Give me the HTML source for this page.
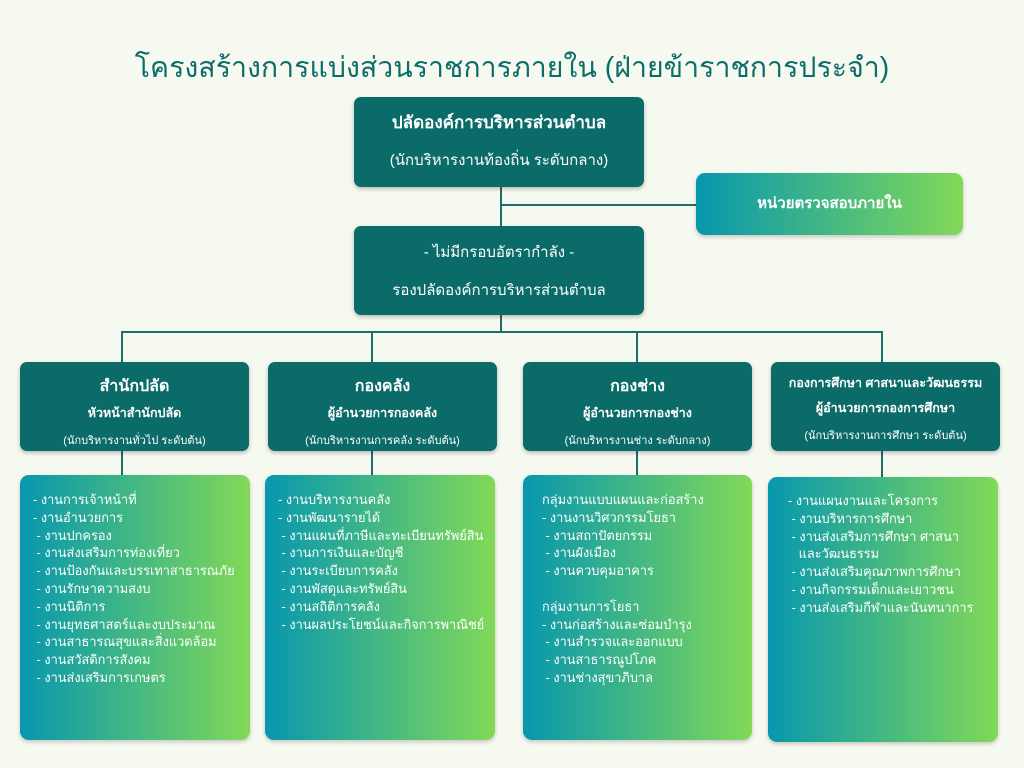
<!DOCTYPE html>
<html><head><meta charset="utf-8"><style>
body{margin:0;width:1024px;height:768px;background:#f6f9f0;position:relative;overflow:hidden;font-family:"Liberation Sans","Noto Sans CJK SC",sans-serif;}
.a{position:absolute;box-sizing:border-box}
.d{background:#0b6b68;color:#fff;border-radius:7px;text-align:center;box-shadow:0 2px 4px rgba(0,0,0,.25)}
.g{background:linear-gradient(90deg,#0797ae,#82d958);color:#fff;border-radius:9px;box-shadow:0 2px 4px rgba(0,0,0,.2)}
.l{position:absolute;background:#1e6e6a}
.lst{font-size:12.8px;line-height:17.8px;white-space:pre}
</style></head><body>
<div class="a" style="left:0;top:44px;width:1024px;text-align:center;font-size:28.5px;color:#0d6e69">โครงสร้างการแบ่งส่วนราชการภายใน (ฝ่ายข้าราชการประจำ)</div>

<div class="l" style="left:500px;top:187px;width:2px;height:40px"></div>
<div class="l" style="left:500px;top:204px;width:196px;height:2px"></div>
<div class="l" style="left:500px;top:315px;width:2px;height:18px"></div>
<div class="l" style="left:121px;top:331px;width:762px;height:2px"></div>
<div class="l" style="left:121px;top:331px;width:2px;height:31px"></div>
<div class="l" style="left:371px;top:331px;width:2px;height:31px"></div>
<div class="l" style="left:636px;top:331px;width:2px;height:31px"></div>
<div class="l" style="left:881px;top:331px;width:2px;height:31px"></div>
<div class="l" style="left:121px;top:451px;width:2px;height:24px"></div>
<div class="l" style="left:371px;top:451px;width:2px;height:24px"></div>
<div class="l" style="left:636px;top:451px;width:2px;height:24px"></div>
<div class="l" style="left:881px;top:451px;width:2px;height:26px"></div>

<div class="a d" style="left:354px;top:97px;width:290px;height:90px;padding-top:12px">
<div style="font-size:17px;font-weight:bold">ปลัดองค์การบริหารส่วนตำบล</div>
<div style="font-size:15px;margin-top:12px">(นักบริหารงานท้องถิ่น ระดับกลาง)</div></div>

<div class="a g" style="left:696px;top:173px;width:267px;height:62px;text-align:center;line-height:62px;font-size:15px;font-weight:bold">หน่วยตรวจสอบภายใน</div>

<div class="a d" style="left:354px;top:226px;width:290px;height:89px;padding-top:14px;font-size:15px">
<div>- ไม่มีกรอบอัตรากำลัง -</div><div style="margin-top:14px">รองปลัดองค์การบริหารส่วนตำบล</div></div>

<div class="a d" style="left:20px;top:362px;width:229px;height:89px;padding-top:12px">
<div style="font-size:16px;font-weight:bold">สำนักปลัด</div><div style="font-size:12.5px;font-weight:bold;margin-top:4px">หัวหน้าสำนักปลัด</div><div style="font-size:11px;margin-top:8px">(นักบริหารงานทั่วไป ระดับต้น)</div></div>
<div class="a d" style="left:268px;top:362px;width:229px;height:89px;padding-top:12px">
<div style="font-size:16px;font-weight:bold">กองคลัง</div><div style="font-size:12.5px;font-weight:bold;margin-top:4px">ผู้อำนวยการกองคลัง</div><div style="font-size:11px;margin-top:8px">(นักบริหารงานการคลัง ระดับต้น)</div></div>
<div class="a d" style="left:523px;top:362px;width:229px;height:89px;padding-top:12px">
<div style="font-size:16px;font-weight:bold">กองช่าง</div><div style="font-size:12.5px;font-weight:bold;margin-top:4px">ผู้อำนวยการกองช่าง</div><div style="font-size:11px;margin-top:8px">(นักบริหารงานช่าง  ระดับกลาง)</div></div>
<div class="a d" style="left:771px;top:362px;width:229px;height:89px;padding-top:11px">
<div style="font-size:12.5px;font-weight:bold">กองการศึกษา ศาสนาและวัฒนธรรม</div><div style="font-size:12.5px;font-weight:bold;margin-top:5px">ผู้อำนวยการกองการศึกษา</div><div style="font-size:11px;margin-top:8px">(นักบริหารงานการศึกษา ระดับต้น)</div></div>

<div class="a g lst" style="left:20px;top:475px;width:230px;height:265px;padding:16px 0 0 13px">- งานการเจ้าหน้าที่
- งานอำนวยการ
 - งานปกครอง
 - งานส่งเสริมการท่องเที่ยว
 - งานป้องกันและบรรเทาสาธารณภัย
 - งานรักษาความสงบ
 - งานนิติการ
 - งานยุทธศาสตร์และงบประมาณ
 - งานสาธารณสุขและสิ่งแวดล้อม
 - งานสวัสดิการสังคม
 - งานส่งเสริมการเกษตร</div>
<div class="a g lst" style="left:265px;top:475px;width:230px;height:265px;padding:16px 0 0 13px">- งานบริหารงานคลัง
- งานพัฒนารายได้
 - งานแผนที่ภาษีและทะเบียนทรัพย์สิน
 - งานการเงินและบัญชี
 - งานระเบียบการคลัง
 - งานพัสดุและทรัพย์สิน
 - งานสถิติการคลัง
 - งานผลประโยชน์และกิจการพาณิชย์</div>
<div class="a g lst" style="left:523px;top:475px;width:229px;height:265px;padding:16px 0 0 19px">กลุ่มงานแบบแผนและก่อสร้าง
- งานงานวิศวกรรมโยธา
 - งานสถาปัตยกรรม
 - งานผังเมือง
 - งานควบคุมอาคาร

กลุ่มงานการโยธา
- งานก่อสร้างและซ่อมบำรุง
 - งานสำรวจและออกแบบ
 - งานสาธารณูปโภค
 - งานช่างสุขาภิบาล</div>
<div class="a g lst" style="left:768px;top:477px;width:230px;height:265px;padding:15px 0 0 20px">- งานแผนงานและโครงการ
 - งานบริหารการศึกษา
 - งานส่งเสริมการศึกษา ศาสนา
   และวัฒนธรรม
 - งานส่งเสริมคุณภาพการศึกษา
 - งานกิจกรรมเด็กและเยาวชน
 - งานส่งเสริมกีฬาและนันทนาการ</div>
</body></html>
